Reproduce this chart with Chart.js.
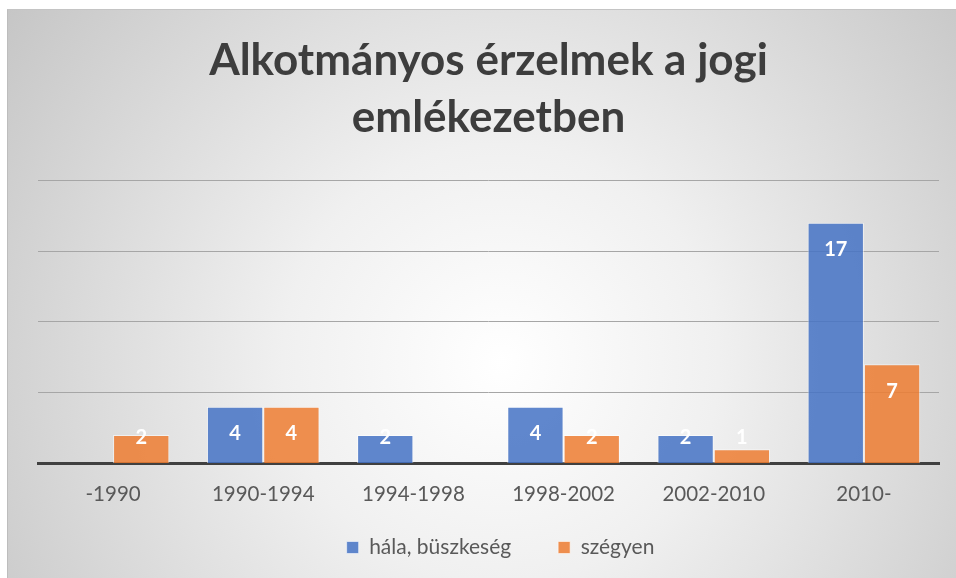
<!DOCTYPE html>
<html>
<head>
<meta charset="utf-8">
<script src="https://cdn.jsdelivr.net/npm/chart.js@4/dist/chart.umd.min.js"></script>
<style>
  html, body { margin: 0; padding: 0; background: #ffffff; }
  #panel {
    position: absolute; left: 7px; top: 9px; width: 948px; height: 568px;
    border-left: 1px solid #bdbdbd; border-top: 1px solid #c4c4c4;
    background: radial-gradient(circle at 52% 62%, #ffffff 0%, #f0f0f0 36%, #c6c6c6 100%);
  }
  canvas { display: block; }
</style>
</head>
<body>
<div id="panel"><canvas id="myChart" width="948" height="568"></canvas></div>
<script>
// categories and values
var categories = ["-1990", "1990-1994", "1994-1998", "1998-2002", "2002-2010", "2010-"];
var hala_values = [0, 4, 2, 4, 2, 17];
var szegyen_values = [2, 4, 0, 2, 1, 7];
var series_names = ["hála, büszkeség", "szégyen"];
var title_lines = ["Alkotmányos érzelmek a jogi", "emlékezetben"];

var fontName = "Lato, 'Open Sans', sans-serif";

// value labels inside the top of the bars (like excel "inside end")
var barLabels = {
    id: 'barLabels',
    afterLayout: function(chart) {
        // excel's legend sits a bit right of the centre
        chart.legend.left += 12;
        chart.legend.right += 12;
    },
    afterDatasetsDraw: function(chart) {
        var ctx = chart.ctx;
        var base = chart.scales.y.getPixelForValue(0);
        ctx.save();
        ctx.font = "bold 20px " + fontName;
        ctx.fillStyle = "#ffffff";
        ctx.textAlign = "center";
        ctx.textBaseline = "middle";
        chart.data.datasets.forEach(function(ds, di) {
            var meta = chart.getDatasetMeta(di);
            meta.data.forEach(function(bar, i) {
                var v = ds.data[i];
                if (!v) return;
                var y = Math.min(bar.y + 27, base - 26);
                ctx.fillText(String(v), bar.x, y);
            });
        });
        ctx.restore();
    }
};

var mychart = new Chart(document.getElementById("myChart"), {
    type: 'bar',
    data: {
        labels: categories,
        datasets: [
            {
                label: series_names[0],
                data: hala_values,
                backgroundColor: "rgba(68,114,196,0.85)",
                borderColor: "rgba(255,255,255,0.55)",
                borderWidth: 1
            },
            {
                label: series_names[1],
                data: szegyen_values,
                backgroundColor: "rgba(237,125,49,0.85)",
                borderColor: "rgba(255,255,255,0.55)",
                borderWidth: 1
            }
        ]
    },
    options: {
        responsive: false,
        animation: false,
        events: [],
        datasets: {
            bar: { categoryPercentage: 0.75, barPercentage: 1.0 }
        },
        layout: {
            padding: { left: 30, right: 17, top: 0, bottom: 10 }
        },
        plugins: {
            title: {
                display: true,
                text: title_lines,
                color: "#3d3d3d",
                font: { family: fontName, size: 44, weight: 'bold', lineHeight: 1.3 },
                padding: { top: 22, bottom: 34 }
            },
            legend: {
                display: true,
                position: 'bottom',
                labels: {
                    color: "#595959",
                    font: { family: fontName, size: 21 },
                    boxWidth: 12,
                    boxHeight: 12,
                    padding: 47
                }
            },
            tooltip: { enabled: false }
        },
        scales: {
            x: {
                grid: { display: false, drawTicks: false },
                border: { display: true, color: "#404040", width: 3 },
                ticks: {
                    color: "#595959",
                    font: { family: fontName, size: 20.5 },
                    padding: 19
                },
                afterFit: function(scale) {
                    // the legend padding is wide, so give the height back to the plot
                    scale.height -= 36;
                    // labels now hang below the axis box, so don't clip them to it
                    scale._computeLabelArea = function() { return undefined; };
                }
            },
            y: {
                min: 0,
                max: 20,
                ticks: { display: false, stepSize: 5 },
                grid: { color: "#a6a6a6", lineWidth: 1, drawTicks: false },
                border: { display: false }
            }
        }
    },
    plugins: [barLabels]
});
</script>
</body>
</html>
